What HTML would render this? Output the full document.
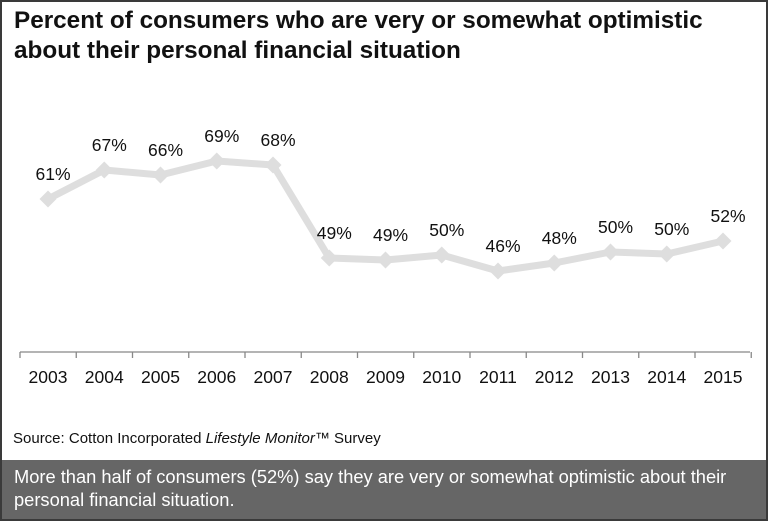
<!DOCTYPE html>
<html><head><style>
body{margin:0;width:768px;height:521px;overflow:hidden;font-family:"Liberation Sans",Arial,sans-serif;background:#fff}
.frame{position:absolute;left:0;top:0;width:764px;height:517px;border:2px solid #3a3a3a;}
.t{position:absolute;left:14px;top:6px;font-size:24.3px;font-weight:bold;line-height:30px;color:#111;white-space:nowrap}
.src{position:absolute;left:13px;top:430px;font-size:15px;color:#111;white-space:nowrap}
.box{position:absolute;left:2px;top:460px;width:764px;height:59px;background:#666;color:#fff;font-size:18.3px;line-height:23px;padding:5px 0 0 12px;box-sizing:border-box;white-space:nowrap}
svg{position:absolute;left:0;top:0}
</style></head><body>
<div class="frame"></div>
<div class="t">Percent of consumers who are very or somewhat optimistic<br>about their personal financial situation</div>
<svg width="768" height="521">
<g stroke="#888" stroke-width="1.3">
<line x1="20" y1="352" x2="750" y2="352"/>
</g>
<g id="ticks" stroke="#888" stroke-width="1.3"></g>
<polyline id="ln" fill="none" stroke="#dedede" stroke-width="7" stroke-linejoin="round"/>
<g id="mk" fill="#dedede"></g>
<g id="lb" font-size="17.5" fill="#111" text-anchor="middle" font-family="Liberation Sans, Arial, sans-serif"></g>
<g id="yr" font-size="17.5" fill="#111" text-anchor="middle" font-family="Liberation Sans, Arial, sans-serif"></g>
</svg>
<div class="src">Source: Cotton Incorporated <i>Lifestyle Monitor</i>™ Survey</div>
<div class="box">More than half of consumers (52%) say they are very or somewhat optimistic about their<br>personal financial situation.</div>
<script>
var v=[61,67,66,69,68,49,49,50,46,48,50,50,52];
var ys=[199,170,175,161,165,258,260,255,271,263,252,254,241];
var ns="http://www.w3.org/2000/svg",pts=[];
function el(t,a,p,tx){var e=document.createElementNS(ns,t);for(var k in a)e.setAttribute(k,a[k]);if(tx)e.textContent=tx;document.getElementById(p).appendChild(e);}
for(var i=0;i<=13;i++){var x=20+i*56.25;el('line',{x1:x,y1:352,x2:x,y2:358},'ticks');}
for(var i=0;i<13;i++){var x=48+i*56.25,y=ys[i];pts.push(x+','+y);
el('rect',{x:x-6,y:y-6,width:12,height:12,transform:'rotate(45 '+x+' '+y+')'},'mk');
el('text',{x:x+5,y:y-19},'lb',v[i]+'%');
el('text',{x:x,y:383},'yr',''+(2003+i));}
document.getElementById('ln').setAttribute('points',pts.join(' '));
</script>
</body></html>
